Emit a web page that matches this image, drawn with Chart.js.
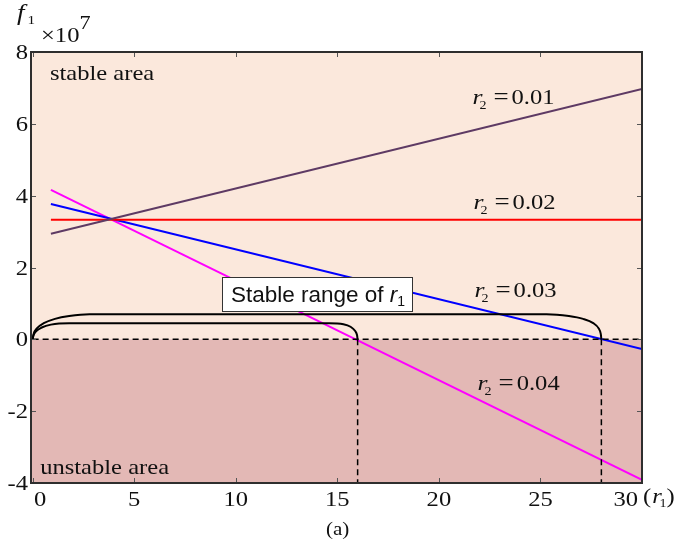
<!DOCTYPE html>
<html>
<head>
<meta charset="utf-8">
<script src="https://cdn.jsdelivr.net/npm/chart.js@4"></script>
<style>
  html, body { margin: 0; padding: 0; background: #ffffff; }
  #wrap { width: 691px; height: 543px; }
</style>
</head>
<body>
<div id="wrap"><canvas id="stabilityChart" width="691" height="543"></canvas></div>
<script>
// ---- data ----
const r2Values = ['0.01', '0.02', '0.03', '0.04'];
const r1Range = [0.9, 30];                 // x where each line starts / ends
const f1AtStart = [2.94, 3.33, 3.77, 4.16]; // f1 (x10^7) at r1 = 0.9
const f1AtEnd = [6.97, 3.33, -0.27, -3.91]; // f1 (x10^7) at r1 = 30
const lineColors = ['#5e3a64', '#ff0000', '#0000ff', '#ff00ff'];

const stableLimits = [16.0, 28.0];          // r1 where f1 = 0 (r2 = 0.04, 0.03)
const xTicks = [0, 5, 10, 15, 20, 25, 30];
const yTicks = [-4, -2, 0, 2, 4, 6, 8];

// bracket shapes marking the stable ranges
const innerBracketX = [0, 0.04, 0.18, 0.45, 0.9, 1.8, 14.6, 15.3, 15.65, 15.87, 15.97, 16.0];
const innerBracketY = [0, 0.11, 0.23, 0.33, 0.41, 0.45, 0.45, 0.42, 0.35, 0.24, 0.12, 0];
const outerBracketX = [0, 0.05, 0.22, 0.55, 1.1, 1.8, 2.8, 25.3, 26.4, 27.1, 27.6, 27.87, 27.97, 28.0];
const outerBracketY = [0, 0.15, 0.31, 0.45, 0.57, 0.65, 0.7, 0.7, 0.65, 0.57, 0.45, 0.3, 0.15, 0];

const SERIF = '"Liberation Serif", "Times New Roman", serif';
const SANS = '"Liberation Sans", Arial, sans-serif';
const STRETCH = 1.17; // the serif lettering in the figure is a bit wide

// ---- datasets ----
const datasets = [];

datasets.push({
    data: [{ x: 0, y: 0 }, { x: 30, y: 0 }],
    borderColor: '#000', borderWidth: 1.5, borderDash: [6, 4], pointRadius: 0
});
stableLimits.forEach(r1 => {
    datasets.push({
        data: [{ x: r1, y: 0 }, { x: r1, y: -4 }],
        borderColor: '#000', borderWidth: 1.5, borderDash: [6, 4], pointRadius: 0
    });
});
[[innerBracketX, innerBracketY], [outerBracketX, outerBracketY]].forEach(([xs, ys]) => {
    datasets.push({
        data: xs.map((x, i) => ({ x, y: ys[i] })),
        borderColor: '#000', borderWidth: 2, pointRadius: 0,
        cubicInterpolationMode: 'monotone'
    });
});
r2Values.forEach((r2, i) => {
    datasets.push({
        label: 'r2 = ' + r2,
        data: [{ x: r1Range[0], y: f1AtStart[i] }, { x: r1Range[1], y: f1AtEnd[i] }],
        borderColor: lineColors[i], borderWidth: 2, pointRadius: 0
    });
});

// ---- helpers ----
// parts: {text, font, at (x offset, unstretched), dy}
function drawRich(ctx, parts, x, y, sx) {
    ctx.save();
    ctx.translate(x, y);
    ctx.scale(sx || 1, 1);
    let cx = 0;
    parts.forEach(p => {
        ctx.font = p.font;
        const px = p.at !== undefined ? p.at : cx;
        ctx.fillText(p.text, px, p.dy || 0);
        cx = px + ctx.measureText(p.text).width;
    });
    ctx.restore();
}

function textWidth(ctx, text, font, sx) {
    ctx.font = font;
    return ctx.measureText(text).width * (sx || 1);
}

const regionsPlugin = {
    id: 'regions',
    beforeDatasetsDraw(chart) {
        const { ctx, chartArea: a, scales } = chart;
        const y0 = scales.y.getPixelForValue(0);
        ctx.save();
        ctx.fillStyle = '#fbe8dc';
        ctx.fillRect(a.left, a.top, a.right - a.left, y0 - a.top);
        ctx.fillStyle = '#e3b8b5';
        ctx.fillRect(a.left, y0, a.right - a.left, a.bottom - y0);
        ctx.restore();
    }
};

const framePlugin = {
    id: 'frame',
    afterDatasetsDraw(chart) {
        const { ctx, chartArea: a, scales } = chart;
        const X = v => scales.x.getPixelForValue(v);
        const Y = v => scales.y.getPixelForValue(v);
        ctx.save();
        // inward ticks on all four sides
        ctx.strokeStyle = '#555';
        ctx.lineWidth = 1;
        xTicks.forEach(v => {
            const px = Math.round(X(v)) + 0.5;
            ctx.beginPath();
            ctx.moveTo(px, a.bottom); ctx.lineTo(px, a.bottom - 5);
            ctx.moveTo(px, a.top); ctx.lineTo(px, a.top + 5);
            ctx.stroke();
        });
        yTicks.forEach(v => {
            const py = Math.round(Y(v)) + 0.5;
            ctx.beginPath();
            ctx.moveTo(a.left, py); ctx.lineTo(a.left + 5, py);
            ctx.moveTo(a.right, py); ctx.lineTo(a.right - 5, py);
            ctx.stroke();
        });
        ctx.strokeStyle = '#2e2e2e';
        ctx.lineWidth = 2;
        ctx.strokeRect(a.left, a.top, a.right - a.left, a.bottom - a.top);

        ctx.fillStyle = '#111';
        ctx.textBaseline = 'alphabetic';
        ctx.textAlign = 'left';
        const tickFont = '21px ' + SERIF;

        // tick labels
        yTicks.forEach(v => {
            const w = textWidth(ctx, String(v), tickFont, STRETCH);
            drawRich(ctx, [{ text: String(v), font: tickFont }], a.left - 3 - w, Y(v) + 7, STRETCH);
        });
        xTicks.forEach(v => {
            const w = textWidth(ctx, String(v), tickFont, STRETCH);
            let cx = X(v);
            cx = Math.max(cx, a.left + 3 + w / 2);
            cx = Math.min(cx, a.right - 4 - w / 2);
            drawRich(ctx, [{ text: String(v), font: tickFont }], cx - w / 2, a.bottom + 23, STRETCH);
        });

        // texts inside the plot
        drawRich(ctx, [{ text: 'stable area', font: '21px ' + SERIF }], X(0.85), Y(7.23), STRETCH);
        drawRich(ctx, [{ text: 'unstable area', font: '21px ' + SERIF }], X(0.37), Y(-3.75), STRETCH);

        const labelPos = [[21.65, 6.56], [21.7, 3.64], [21.75, 1.18], [21.9, -1.41]];
        r2Values.forEach((r2, i) => {
            drawRich(ctx, [
                { text: 'r', font: 'italic 22px ' + SERIF, at: 0 },
                { text: '2', font: '12px ' + SERIF, at: 6, dy: 5 },
                { text: '=', font: '23px ' + SERIF, at: 18 },
                { text: r2, font: '21px ' + SERIF, at: 33.5 }
            ], X(labelPos[i][0]), Y(labelPos[i][1]), STRETCH);
        });

        // "Stable range of r1" box
        const bx = 222, by = 277, bw = 190, bh = 34;
        ctx.fillStyle = '#ffffff';
        ctx.fillRect(bx, by, bw, bh);
        ctx.strokeStyle = '#333';
        ctx.lineWidth = 1;
        ctx.strokeRect(bx + 0.5, by + 0.5, bw, bh);
        ctx.fillStyle = '#111';
        drawRich(ctx, [
            { text: 'Stable range of ', font: '22.5px ' + SANS },
            { text: 'r', font: 'italic 22.5px ' + SANS },
            { text: '1', font: '14px ' + SANS, dy: 4 }
        ], bx + 9, by + 25);

        // axis labels outside the plot
        drawRich(ctx, [
            { text: 'f', font: 'italic 23px ' + SERIF, at: 0 },
            { text: '1', font: '13px ' + SERIF, at: 9, dy: 4 }
        ], 17, 20, STRETCH);
        drawRich(ctx, [
            { text: '\u00d710', font: '21px ' + SERIF },
            { text: '7', font: '19px ' + SERIF, dy: -13 }
        ], 41, 42, STRETCH);
        drawRich(ctx, [
            { text: '(', font: '21px ' + SERIF, at: 0 },
            { text: 'r', font: 'italic 21px ' + SERIF, at: 8 },
            { text: '1', font: '12px ' + SERIF, at: 14, dy: 4 },
            { text: ')', font: '21px ' + SERIF, at: 20 }
        ], a.right + 1, 503, STRETCH);
        drawRich(ctx, [{ text: '(a)', font: '18px ' + SERIF }], 326, 535, STRETCH);
        ctx.restore();
    }
};

new Chart(document.getElementById('stabilityChart').getContext('2d'), {
    type: 'line',
    data: { datasets },
    options: {
        responsive: false,
        animation: false,
        layout: { padding: { top: 52, right: 49, left: 0, bottom: 0 } },
        plugins: { legend: { display: false }, tooltip: { enabled: false } },
        elements: { line: { tension: 0 } },
        scales: {
            x: {
                type: 'linear',
                min: -0.08,
                max: 30,
                afterBuildTicks: scale => { scale.ticks = xTicks.map(v => ({ value: v })); },
                afterFit: scale => { scale.height = 60; },
                grid: { display: false },
                border: { display: false },
                ticks: { display: false }
            },
            y: {
                type: 'linear',
                min: -4,
                max: 8,
                afterBuildTicks: scale => { scale.ticks = yTicks.map(v => ({ value: v })); },
                afterFit: scale => { scale.width = 31; },
                grid: { display: false },
                border: { display: false },
                ticks: { display: false }
            }
        }
    },
    plugins: [regionsPlugin, framePlugin]
});
</script>
</body>
</html>
